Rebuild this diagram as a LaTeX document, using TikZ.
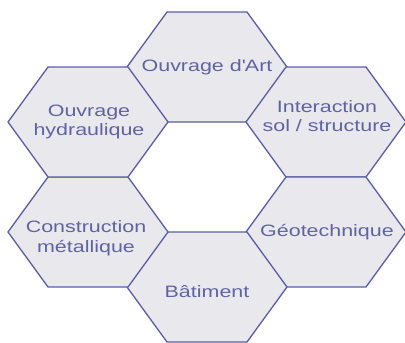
\documentclass[tikz,border=0pt]{standalone}
\usepackage{fontspec}
\setmainfont{Liberation Sans}[FakeStretch=1.3]
\definecolor{hexline}{HTML}{5A5EA4}
\definecolor{hexfill}{HTML}{E8E8ED}
\definecolor{hextext}{HTML}{5F63A3}
\tikzset{
  hexstyle/.style={draw=hexline, fill=hexfill, line width=1.3pt, line join=round},
  hexlabel/.style={text=hextext, align=center, font=\fontsize{16.5}{19.5}\selectfont, inner sep=0pt}
}
\newcommand\hexagonat[2]{%
  \draw[hexstyle, shift={(#1,#2)}] (-80,0) -- (-40,-55) -- (40,-55) -- (80,0) -- (40,55) -- (-40,55) -- cycle;}
\begin{document}
\begin{tikzpicture}[x=1pt,y=-1pt]
\useasboundingbox (0,0) rectangle (405,343);
\hexagonat{207}{67}
\hexagonat{326}{122}
\hexagonat{326}{232}
\hexagonat{207}{287}
\hexagonat{88}{232}
\hexagonat{88}{122}
\node[hexlabel] (art) at (207,67) {Ouvrage d\textquotesingle Art};
\node[hexlabel] (inter) at (327,116) {Interaction\\sol / structure};
\node[hexlabel] (geo) at (327,232) {Géotechnique};
\node[hexlabel] (bat) at (207,292) {Bâtiment};
\node[hexlabel] (metal) at (86,238) {Construction\\métallique};
\node[hexlabel] (hydro) at (89,122) {Ouvrage\\hydraulique};
\end{tikzpicture}
\end{document}
